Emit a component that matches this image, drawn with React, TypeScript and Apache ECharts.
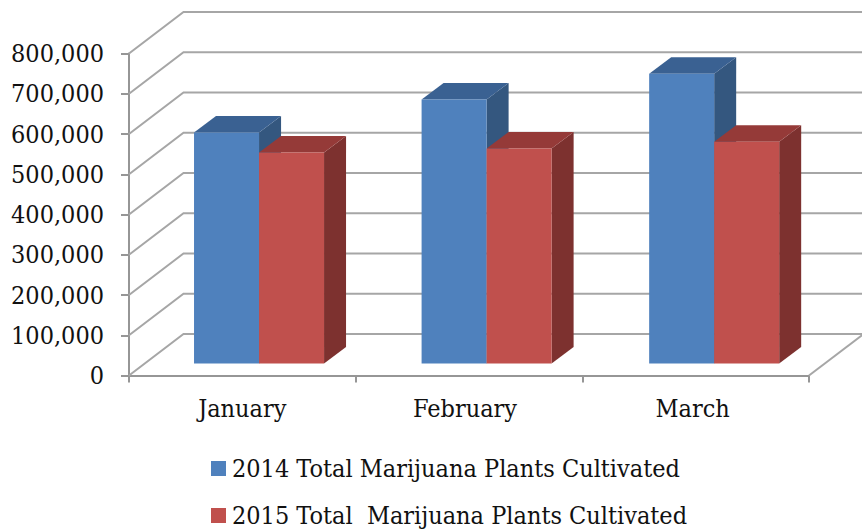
import React, { useEffect, useRef } from "react";
import * as echarts from "echarts";

const months = ["January", "February", "March"];
const yTicks = [0, 100000, 200000, 300000, 400000, 500000, 600000, 700000, 800000];
const name2014 = "2014 Total Marijuana Plants Cultivated";
const name2015 = "2015 Total  Marijuana Plants Cultivated";
const values2014 = [574000, 656000, 720000];
const values2015 = [524000, 534000, 551000];

const FONT = "'DejaVu Serif Condensed', 'DejaVu Serif', serif";
const GRID_LINE = "#a6a6a6";
const AXIS_LINE = "#969696";

const WALL_DX = 54.5;
const WALL_DY = -41.5;
const BAR_DX = 16.7;
const BAR_SPREAD = 0.9;
const BAR_DY = -12;
const DEPTH_DX = 22;
const DEPTH_DY = -16.5;
const BAR_W_RATIO = 0.2868;
const LABEL_RIGHT_PAD = [0, 8, 6];

function wallItem(params: any, api: any) {
  const cs = params.coordSys;
  const v = api.value(1);
  const y = api.coord([0, v])[1];
  const x0 = cs.x;
  const x1 = cs.x + cs.width;
  const children: any[] = [
    {
      type: "polyline",
      shape: { points: [[x0, y], [x0 + WALL_DX, y + WALL_DY], [x1 + WALL_DX + 10, y + WALL_DY]] },
      style: { stroke: GRID_LINE, lineWidth: 2, fill: "none" },
    },
  ];
  if (v === 0) {
    children.push({
      type: "line",
      shape: { x1, y1: y, x2: x1 + WALL_DX, y2: y + WALL_DY },
      style: { stroke: GRID_LINE, lineWidth: 2 },
    });
  }
  return { type: "group", children };
}

function barItem(side: number, front: string, top: string, right: string) {
  return (_params: any, api: any) => {
    const cat = api.value(0);
    const val = api.value(1);
    const w = api.size([1, 0])[0] * BAR_W_RATIO;
    const base = api.coord([cat, 0]);
    const head = api.coord([cat, val]);
    const xl = base[0] + BAR_DX + cat * BAR_SPREAD + (side === 0 ? -w : 0);
    const xr = xl + w;
    const yb = base[1] + BAR_DY;
    const yt = head[1] + BAR_DY;
    return {
      type: "group",
      children: [
        {
          type: "polygon",
          shape: { points: [[xr, yb], [xr + DEPTH_DX, yb + DEPTH_DY], [xr + DEPTH_DX, yt + DEPTH_DY], [xr, yt]] },
          style: { fill: right },
        },
        {
          type: "polygon",
          shape: { points: [[xl, yt], [xl + DEPTH_DX, yt + DEPTH_DY], [xr + DEPTH_DX, yt + DEPTH_DY], [xr, yt]] },
          style: { fill: top },
        },
        { type: "rect", shape: { x: xl, y: yt, width: w, height: yb - yt }, style: { fill: front } },
      ],
    };
  };
}

export default function App() {
  const ref = useRef<HTMLDivElement>(null);
  useEffect(() => {
    document.body.style.margin = "0";
    const chart = echarts.init(ref.current!, undefined, { renderer: "svg" });
    chart.setOption({
      animation: false,
      backgroundColor: "#ffffff",
      grid: { left: 129, top: 53.5, width: 680, height: 322 },
      xAxis: {
        type: "category",
        data: months.map((m, i) => ({
          value: m,
          textStyle: { padding: [0, LABEL_RIGHT_PAD[i], 0, 0] },
        })),
        axisLine: { lineStyle: { color: AXIS_LINE, width: 2 } },
        axisTick: { show: true, length: 7, alignWithLabel: false, lineStyle: { color: AXIS_LINE, width: 2 } },
        axisLabel: { color: "#111111", fontFamily: FONT, fontSize: 25, margin: 20 },
        splitLine: { show: false },
      },
      yAxis: {
        type: "value",
        min: 0,
        max: 800000,
        interval: 100000,
        axisLine: { show: true, lineStyle: { color: AXIS_LINE, width: 2 } },
        axisTick: { show: true, length: 8, lineStyle: { color: AXIS_LINE, width: 2 } },
        axisLabel: {
          color: "#111111",
          fontFamily: FONT,
          fontSize: 25,
          margin: 25,
          formatter: (v: number) => v.toLocaleString("en-US"),
        },
        splitLine: { show: false },
      },
      legend: {
        left: 211,
        top: 456,
        height: 73,
        padding: 0,
        orient: "vertical",
        data: [name2014, name2015],
        icon: "rect",
        itemWidth: 15,
        itemHeight: 15,
        itemGap: 22,
        selectedMode: false,
        textStyle: { color: "#111111", fontFamily: FONT, fontSize: 25, padding: [0, 0, 0, 1] },
      },
      series: [
        {
          type: "custom",
          name: "walls",
          silent: true,
          clip: false,
          z: 1,
          data: yTicks.map((t) => [0, t]),
          encode: { x: 0, y: 1 },
          renderItem: wallItem,
        },
        {
          type: "custom",
          name: name2014,
          clip: false,
          z: 2,
          itemStyle: { color: "#4f81bd" },
          data: values2014.map((v, i) => [i, v]),
          encode: { x: 0, y: 1 },
          renderItem: barItem(0, "#4f81bd", "#3a6192", "#34577f"),
        },
        {
          type: "custom",
          name: name2015,
          clip: false,
          z: 3,
          itemStyle: { color: "#c0504d" },
          data: values2015.map((v, i) => [i, v]),
          encode: { x: 0, y: 1 },
          renderItem: barItem(1, "#c0504d", "#953a38", "#7d312f"),
        },
      ],
    });
    return () => chart.dispose();
  }, []);
  return <div ref={ref} style={{ position: "fixed", left: 0, top: 0, width: 862, height: 529 }} />;
}
